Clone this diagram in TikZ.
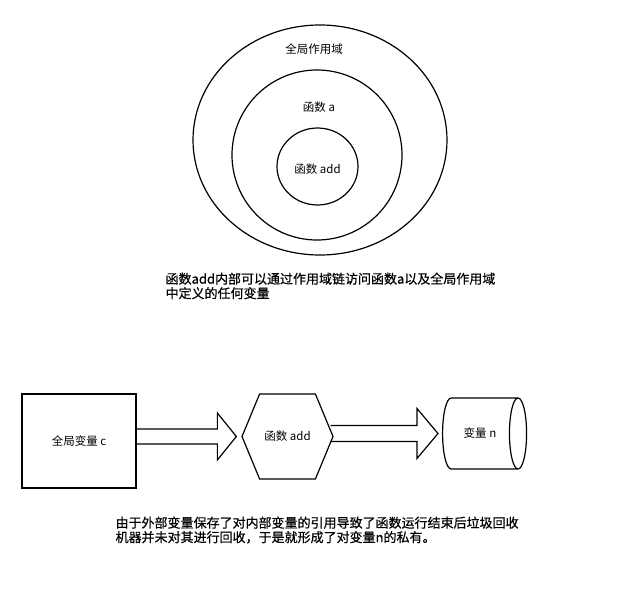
\documentclass[tikz,border=0pt]{standalone}
\usepackage{fontspec}
\setmainfont{Noto Sans CJK SC}
\newfontfamily\notefont[FakeBold=0.5]{Noto Sans CJK SC}
\usetikzlibrary{
	positioning,
	shapes.geometric,
	shapes.symbols,
	calc
}

\begin{document}
\begin{tikzpicture}[
	x=1pt, y=-1pt,
	line width=1.2pt,
	scopering/.style={draw, ellipse, inner sep=0pt},
	labeltext/.style={font=\fontsize{11.5}{13}\selectfont, inner sep=0pt},
	notetext/.style={font=\notefont\fontsize{13}{14.5}\selectfont, align=left, anchor=north west, inner sep=0pt},
	blockarrow/.style={draw, line join=miter}
	]
	\useasboundingbox (0,0) rectangle (643,602);
	
	% nested scopes
	\node[
	scopering,
	minimum width=254pt,
	minimum height=230pt
	] (globalscope) at (320,140) {};
	
	\node[
	scopering,
	minimum width=170pt,
	minimum height=170pt
	] (funcascope) at (317,155) {};
	
	\node[
	scopering,
	minimum width=81pt,
	minimum height=77pt
	] (addscope) at (317.5,166.5) {};
	
	\node[labeltext] (globaltitle) at (314,49) {全局作用域};
	\node[labeltext] (funcatitle) at (319,107) {函数 a};
	\node[labeltext] (addtitle) at (317.5,169) {函数 add};
	
	\node[notetext] (scopenote) at (165,272) {函数add内部可以通过作用域链访问函数a以及全局作用域\\中定义的任何变量};
	
	% closure row
	\node[
	draw,
	labeltext,
	minimum width=114pt,
	minimum height=94pt
	] (globalvar) at (79,441) {全局变量 c};
	
	\node[
	draw,
	labeltext,
	signal,
	signal to=west and east,
	signal pointer angle=135,
	minimum width=91pt,
	minimum height=85pt
	] (addfunc) at (287.5,436.5) {函数 add};
	
	\node[
	draw,
	labeltext,
	cylinder,
	aspect=1.6,
	minimum width=71pt,
	minimum height=84pt
	] (privvar) at (480,433.5) {变量 n};
	
	\coordinate[left=5pt of addfunc.west] (tipone);
	\coordinate[left=4pt of privvar.west] (tiptwo);
	
	\draw[blockarrow]
	($(globalvar.east|-tipone)+(0,-7.5)$) -- ($(tipone)+(-19,-7.5)$) -- ($(tipone)+(-19,-23.5)$)
	-- (tipone) -- ($(tipone)+(-19,23.5)$) -- ($(tipone)+(-19,7.5)$) -- ($(globalvar.east|-tipone)+(0,7.5)$);
	
	\draw[blockarrow]
	($(addfunc.east|-tiptwo)+(-3,-8)$) -- ($(tiptwo)+(-21,-8)$) -- ($(tiptwo)+(-21,-25)$)
	-- (tiptwo) -- ($(tiptwo)+(-21,25)$) -- ($(tiptwo)+(-21,8)$) -- ($(addfunc.east|-tiptwo)+(-3,8)$);
	
	\node[notetext] (closurenote) at (115,516) {由于外部变量保存了对内部变量的引用导致了函数运行结束后垃圾回收\\机器并未对其进行回收，于是就形成了对变量n的私有。};
	
\end{tikzpicture}
\end{document}
